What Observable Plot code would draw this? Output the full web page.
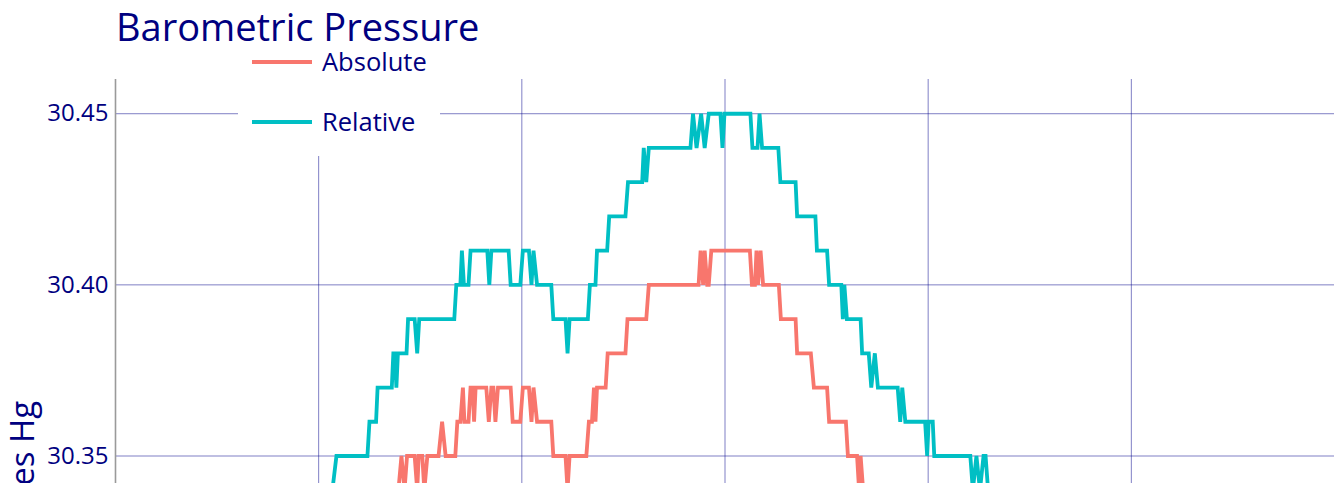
<!DOCTYPE html>
<html>
<head>
<meta charset="utf-8">
<script src="https://cdn.jsdelivr.net/npm/d3@7"></script>
<script src="https://cdn.jsdelivr.net/npm/@observablehq/plot@0.6"></script>
<style>
  html, body { margin: 0; padding: 0; background: #fff; overflow: hidden; }
  #wrap { position: relative; width: 1339px; height: 483px; overflow: hidden; font-family: "Open Sans", sans-serif; color: navy; }
  #chart { position: absolute; left: 0; top: 0; }
  #title { position: absolute; left: 116px; top: 7px; font-size: 38px; line-height: 1; white-space: nowrap; }
  #legend { position: absolute; left: 238px; top: 48px; width: 202px; height: 108px; background: #fff; }
  .sw { position: absolute; left: 14px; width: 60px; height: 4px; }
  .lt { position: absolute; left: 84px; font-size: 25.5px; line-height: 1; white-space: nowrap; }
</style>
</head>
<body>
<div id="wrap">
  <div id="chart"></div>
  <div id="title">Barometric Pressure</div>
  <div id="legend"></div>
</div>
<script>
// Series names and colours
const seriesNames = ["Absolute", "Relative"];
const seriesColors = ["#F8766D", "#00BFC4"];

// Time of day (hours) and pressure (inches Hg) for the "Absolute" series
const absoluteHours = [
  1.08, 1.48, 1.54, 1.93, 1.99, 2.42, 2.48, 2.89, 2.95, 3.39,
  3.44, 3.88, 3.94, 4.37, 4.43, 4.78, 4.84, 5.18, 5.24, 5.57,
  5.63, 5.69, 5.74, 5.89, 5.94, 5.97, 6.04, 6.08, 6.14, 6.36,
  6.43, 6.50, 6.69, 6.73, 6.79, 6.84, 6.87, 6.95, 6.99, 7.03,
  7.06, 7.09, 7.30, 7.35, 7.40, 7.44, 7.48, 7.53, 7.78, 7.82,
  7.97, 8.02, 8.14, 8.19, 8.23, 8.30, 8.58, 8.62, 8.86, 8.90,
  8.94, 9.27, 9.32, 9.38, 9.42, 9.45, 9.48, 9.65, 9.69, 10.04,
  10.08, 10.45, 10.50, 11.48, 11.52, 11.57, 11.60, 11.65, 11.68, 11.73,
  12.49, 12.53, 12.59, 12.62, 12.65, 12.70, 12.75, 13.06, 13.10, 13.39,
  13.42, 13.69, 13.75, 14.01, 14.05, 14.38, 14.42, 14.60, 14.64, 14.67,
  14.72, 14.96, 15.02, 15.30, 15.35, 15.65, 15.71, 16.04, 16.10, 17.42,
  17.48, 18.56, 18.62, 19.74, 19.80, 20.93, 20.98, 22.11, 22.17, 22.91
];
const absoluteValues = [
  30.25, 30.25, 30.26, 30.26, 30.27, 30.27, 30.28, 30.28, 30.29, 30.29,
  30.30, 30.30, 30.31, 30.31, 30.32, 30.32, 30.33, 30.33, 30.34, 30.34,
  30.35, 30.34, 30.35, 30.35, 30.34, 30.35, 30.35, 30.34, 30.35, 30.35,
  30.36, 30.35, 30.35, 30.36, 30.36, 30.37, 30.36, 30.36, 30.37, 30.37,
  30.36, 30.37, 30.37, 30.36, 30.37, 30.37, 30.36, 30.37, 30.37, 30.36,
  30.36, 30.37, 30.37, 30.36, 30.37, 30.36, 30.36, 30.35, 30.35, 30.34,
  30.35, 30.35, 30.36, 30.36, 30.37, 30.36, 30.37, 30.37, 30.38, 30.38,
  30.39, 30.39, 30.40, 30.40, 30.41, 30.40, 30.41, 30.40, 30.40, 30.41,
  30.41, 30.40, 30.40, 30.41, 30.40, 30.41, 30.40, 30.40, 30.39, 30.39,
  30.38, 30.38, 30.37, 30.37, 30.36, 30.36, 30.35, 30.35, 30.34, 30.35,
  30.34, 30.34, 30.33, 30.33, 30.32, 30.32, 30.31, 30.31, 30.30, 30.30,
  30.29, 30.29, 30.28, 30.28, 30.27, 30.27, 30.26, 30.26, 30.25, 30.25
];

// Time of day (hours) and pressure (inches Hg) for the "Relative" series
const relativeHours = [
  1.08, 1.59, 1.65, 2.11, 2.17, 2.66, 2.72, 3.17, 3.23, 3.70,
  3.76, 4.27, 4.35, 4.96, 5.00, 5.13, 5.16, 5.44, 5.47, 5.50,
  5.53, 5.56, 5.73, 5.76, 5.89, 5.94, 5.98, 6.67, 6.71, 6.79,
  6.82, 6.86, 6.95, 6.99, 7.32, 7.36, 7.40, 7.74, 7.78, 7.97,
  8.02, 8.14, 8.19, 8.23, 8.30, 8.58, 8.62, 8.86, 8.90, 8.94,
  9.30, 9.34, 9.45, 9.48, 9.68, 9.72, 10.04, 10.09, 10.37, 10.40,
  10.45, 10.50, 11.32, 11.37, 11.44, 11.53, 11.60, 11.68, 11.91, 11.95,
  11.99, 12.50, 12.54, 12.64, 12.68, 12.73, 13.05, 13.09, 13.39, 13.42,
  13.78, 13.81, 14.01, 14.05, 14.29, 14.32, 14.35, 14.40, 14.67, 14.70,
  14.83, 14.88, 14.95, 15.01, 15.40, 15.45, 15.49, 15.55, 15.94, 15.98,
  16.01, 16.09, 16.12, 16.83, 16.88, 16.95, 17.02, 17.09, 17.13, 17.18,
  17.42, 17.48, 18.56, 18.62, 19.74, 19.80, 20.93, 20.98, 22.11, 22.17,
  22.91
];
const relativeValues = [
  30.29, 30.29, 30.30, 30.30, 30.31, 30.31, 30.32, 30.32, 30.33, 30.33,
  30.34, 30.34, 30.35, 30.35, 30.36, 30.36, 30.37, 30.37, 30.38, 30.38,
  30.37, 30.38, 30.38, 30.39, 30.39, 30.38, 30.39, 30.39, 30.40, 30.40,
  30.41, 30.40, 30.40, 30.41, 30.41, 30.40, 30.41, 30.41, 30.40, 30.40,
  30.41, 30.41, 30.40, 30.41, 30.40, 30.40, 30.39, 30.39, 30.38, 30.39,
  30.39, 30.40, 30.40, 30.41, 30.41, 30.42, 30.42, 30.43, 30.43, 30.44,
  30.43, 30.44, 30.44, 30.45, 30.44, 30.45, 30.44, 30.45, 30.45, 30.44,
  30.45, 30.45, 30.44, 30.44, 30.45, 30.44, 30.44, 30.43, 30.43, 30.42,
  30.42, 30.41, 30.41, 30.40, 30.40, 30.39, 30.40, 30.39, 30.39, 30.38,
  30.38, 30.37, 30.38, 30.37, 30.37, 30.36, 30.37, 30.36, 30.36, 30.35,
  30.36, 30.36, 30.35, 30.35, 30.34, 30.35, 30.34, 30.35, 30.35, 30.34,
  30.34, 30.33, 30.33, 30.32, 30.32, 30.31, 30.31, 30.30, 30.30, 30.29,
  30.29
];

// Axis ticks
const yTicks = [30.25, 30.30, 30.35, 30.40, 30.45];
const xTicks = [4, 8, 12, 16, 20];
const xTickLabels = ["04:00", "08:00", "12:00", "16:00", "20:00"];
const yLabel = "Inches Hg";

// Build the long table Plot needs
const rows = [];
absoluteHours.forEach((h, i) => rows.push({series: seriesNames[0], hour: h, value: absoluteValues[i]}));
relativeHours.forEach((h, i) => rows.push({series: seriesNames[1], hour: h, value: relativeValues[i]}));

const gridStyle = {stroke: "#00008b", strokeOpacity: 0.5, strokeWidth: 1};

const chart = Plot.plot({
  width: 1339,
  height: 900,
  marginLeft: 115,
  marginRight: 5,
  marginTop: 79,
  marginBottom: 68,
  style: {fontFamily: "'Open Sans', sans-serif", background: "white", overflow: "visible"},
  x: {domain: [0, 24]},
  y: {domain: [30.24, 30.46]},
  color: {domain: seriesNames, range: seriesColors},
  marks: [
    Plot.gridY(yTicks, gridStyle),
    Plot.gridX(xTicks, gridStyle),
    Plot.ruleX([0], {stroke: "#9a9a9a", strokeWidth: 1.6}),
    Plot.ruleY([30.24], {stroke: "#9a9a9a", strokeWidth: 1.6}),
    Plot.axisY(yTicks, {
      tickSize: 0, tickPadding: 7, label: null,
      tickFormat: d => d.toFixed(2), fontSize: 24, fill: "navy"
    }),
    Plot.axisX(xTicks, {
      tickSize: 0, tickPadding: 8, label: null,
      tickFormat: d => xTickLabels[xTicks.indexOf(d)], fontSize: 24, fill: "navy"
    }),
    Plot.line(rows, {
      x: "hour", y: "value", z: "series", stroke: "series",
      strokeWidth: 3.8, strokeLinejoin: "miter", strokeMiterlimit: 4, curve: "linear"
    }),
    Plot.text([yLabel], {
      frameAnchor: "left", textAnchor: "middle", dx: -92, dy: 20, rotate: -90, fontSize: 33, fill: "navy"
    })
  ]
});
document.getElementById("chart").appendChild(chart);

// Legend (overlaid on the plot with a white box, as in the reference)
const legend = document.getElementById("legend");
seriesNames.forEach((name, i) => {
  const sw = document.createElement("div");
  sw.className = "sw";
  sw.style.top = (12 + i * 60) + "px";
  sw.style.background = seriesColors[i];
  legend.appendChild(sw);
  const lt = document.createElement("div");
  lt.className = "lt";
  lt.style.top = (1 + i * 60) + "px";
  lt.textContent = name;
  legend.appendChild(lt);
});
</script>
</body>
</html>
